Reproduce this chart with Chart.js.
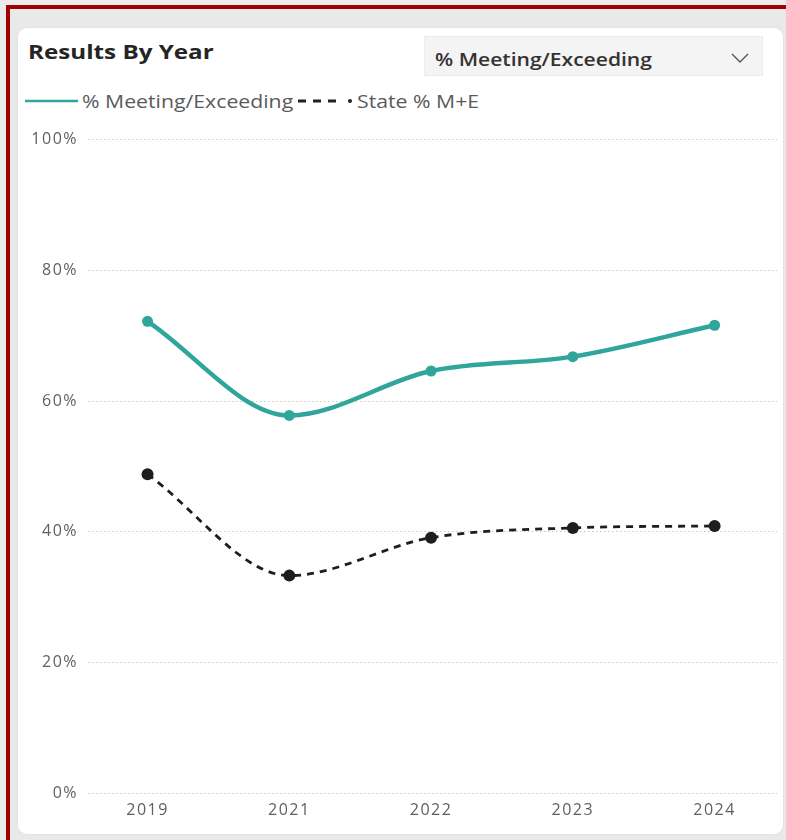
<!DOCTYPE html>
<html>
<head>
<meta charset="utf-8">
<script src="https://cdn.jsdelivr.net/npm/chart.js@4/dist/chart.umd.min.js"></script>
<style>
  html, body { margin:0; padding:0; width:786px; height:840px; overflow:hidden; background:#ebebeb; font-family:"Open Sans","Noto Sans",sans-serif; }
  #frameTop { position:absolute; left:6px; top:5px; width:780px; height:4px; background:#a00000; }
  #frameLeft { position:absolute; left:6px; top:5px; width:4px; height:835px; background:#a00000; }
  #band { position:absolute; left:10px; top:9px; width:776px; height:831px; background:#e9e9e9; }
  #card { position:absolute; left:18px; top:28px; width:765px; height:806px; background:#fff; border-radius:9px; box-shadow:0 0 2px rgba(0,0,0,0.08); }
  .sx { position:absolute; white-space:nowrap; transform-origin:0 50%; line-height:1; }
  #title { left:28px; top:42px; font-size:20px; font-weight:700; color:#252423; transform:scaleX(1.21); }
  #dropdown { position:absolute; left:424px; top:36px; width:339px; height:40px; background:#f4f4f4; border:1px solid #ececec; box-sizing:border-box; }
  #ddText { left:10px; top:13px; font-size:18px; font-weight:600; color:#333; transform:scaleX(1.17); }
  #ddChev { position:absolute; right:12px; top:15px; }
  .leg { font-size:18px; color:#5a5a5a; top:92px; transform:scaleX(1.18); }
  #legLine1 { position:absolute; left:25px; top:96px; }
  #legLine2 { position:absolute; left:296px; top:96px; }
  #chartWrap { position:absolute; left:18px; top:120px; width:765px; height:700px; }
</style>
</head>
<body>
<div id="frameTop"></div>
<div id="frameLeft"></div>
<div id="band"></div>
<div id="card"></div>
<div id="title" class="sx">Results By Year</div>
<div id="dropdown">
  <div id="ddText" class="sx">% Meeting/Exceeding</div>
  <svg id="ddChev" width="20" height="12" viewBox="0 0 20 12"><polyline points="2,2 10,10 18,2" fill="none" stroke="#555" stroke-width="1.4"/></svg>
</div>
<svg id="legLine1" width="54" height="10"><line x1="0" y1="5" x2="53" y2="5" stroke="#2fa59c" stroke-width="2.5"/></svg>
<div class="sx leg" style="left:82px;">% Meeting/Exceeding</div>
<svg id="legLine2" width="60" height="10"><line x1="2" y1="5" x2="40" y2="5" stroke="#222" stroke-width="3" stroke-dasharray="8,7"/><circle cx="54" cy="5" r="2" fill="#222"/></svg>
<div class="sx leg" style="left:357px;">State % M+E</div>
<div id="chartWrap"><canvas id="c"></canvas></div>
<script>
const years = ["2019", "2021", "2022", "2023", "2024"];
const meetingExceeding = [72.2, 57.8, 64.6, 66.8, 71.6];
const stateME = [48.8, 33.3, 39.1, 40.6, 40.9];
const yTicks = [0, 20, 40, 60, 80, 100];

const teal = "#2fa59c";
const dark = "#1e1e1e";

const spacing = {
  id: "spacing",
  beforeDraw(chart) { chart.ctx.letterSpacing = "1.5px"; }
};

new Chart(document.getElementById("c"), {
  type: "line",
  plugins: [spacing],
  data: {
    datasets: [
      {
        label: "% Meeting/Exceeding",
        data: meetingExceeding.map((v, i) => ({ x: i, y: v })),
        borderColor: teal,
        backgroundColor: teal,
        borderWidth: 4.5,
        pointRadius: 5.5,
        pointBorderWidth: 0,
        tension: 0.4,
        cubicInterpolationMode: "monotone"
      },
      {
        label: "State % M+E",
        data: stateME.map((v, i) => ({ x: i, y: v })),
        borderColor: dark,
        backgroundColor: dark,
        borderWidth: 2.8,
        borderDash: [7, 6],
        pointRadius: 6,
        pointBorderWidth: 0,
        tension: 0.4,
        cubicInterpolationMode: "monotone"
      }
    ]
  },
  options: {
    responsive: true,
    maintainAspectRatio: false,
    animation: false,
    layout: { padding: { top: 16.7, right: 3, left: 0, bottom: 0 } },
    plugins: { legend: { display: false }, tooltip: { enabled: false } },
    scales: {
      x: {
        type: "linear",
        min: -0.42,
        max: 4.44,
        afterBuildTicks: (axis) => { axis.ticks = years.map((_, i) => ({ value: i })); },
        afterFit: (axis) => { axis.height = 26.7; },
        grid: { display: false, drawTicks: false },
        border: { display: false },
        ticks: {
          autoSkip: false,
          maxRotation: 0,
          padding: 8,
          color: "#606060",
          font: { family: "'Open Sans','Noto Sans',sans-serif", size: 16 },
          callback: (v) => years[v] ?? ""
        }
      },
      y: {
        min: 0,
        max: 100,
        afterBuildTicks: (axis) => { axis.ticks = yTicks.map(v => ({ value: v })); },
        afterFit: (axis) => { axis.width = 70; },
        grid: { color: "#c8c8c8", lineWidth: 1, drawTicks: false },
        border: { display: false, dash: [1.5, 2.5] },
        ticks: {
          padding: 10,
          color: "#606060",
          font: { family: "'Open Sans','Noto Sans',sans-serif", size: 16 },
          callback: (v) => v + "%"
        }
      }
    }
  }
});
</script>
</body>
</html>
